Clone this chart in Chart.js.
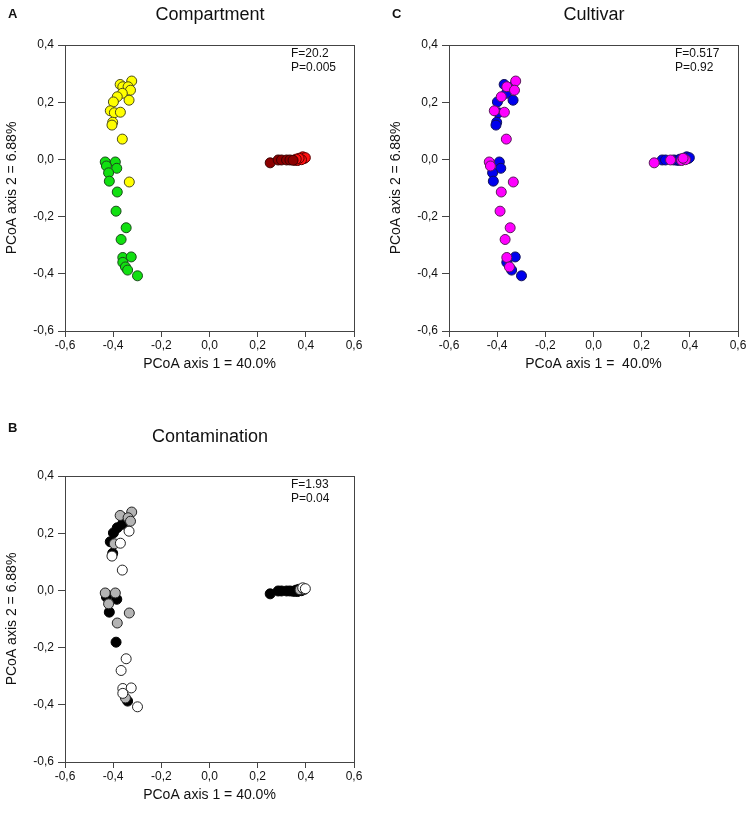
<!DOCTYPE html>
<html>
<head>
<meta charset="utf-8">
<script src="https://cdn.jsdelivr.net/npm/chart.js@4.4.1/dist/chart.umd.min.js"></script>
<style>
  body { margin: 0; background: #fff; }
  #wrap { position: relative; width: 749px; height: 819px; background: #fff; font-family: "Liberation Sans", Arial, sans-serif; color: #111; }
  canvas { position: absolute; }
  .t { position: absolute; white-space: pre; line-height: 1; }
  .letter { font-weight: bold; font-size: 13px; }
  .title { font-size: 18px; transform: translateX(-50%); }
  .stat { font-size: 12px; }
</style>
</head>
<body>
<div id="wrap">
  <canvas id="chartA" width="374" height="377" style="left:0;top:0"></canvas>
  <canvas id="chartC" width="365" height="377" style="left:384px;top:0"></canvas>
  <canvas id="chartB" width="374" height="377" style="left:0;top:431px"></canvas>

  <div class="t letter" style="left:8px;top:7px">A</div>
  <div class="t title" style="left:210px;top:5px">Compartment</div>
  <div class="t stat" style="left:291px;top:47px">F=20.2</div>
  <div class="t stat" style="left:291px;top:61px">P=0.005</div>

  <div class="t letter" style="left:392px;top:7px">C</div>
  <div class="t title" style="left:594px;top:5px">Cultivar</div>
  <div class="t stat" style="left:675px;top:47px">F=0.517</div>
  <div class="t stat" style="left:675px;top:61px">P=0.92</div>

  <div class="t letter" style="left:8px;top:421px">B</div>
  <div class="t title" style="left:210px;top:427px">Contamination</div>
  <div class="t stat" style="left:291px;top:478px">F=1.93</div>
  <div class="t stat" style="left:291px;top:492px">P=0.04</div>
</div>

<script>
// Sample positions (same samples in all three panels)
const yellowX = [-0.323, -0.371, -0.360, -0.338, -0.328, -0.362, -0.383, -0.334, -0.399, -0.412, -0.395, -0.370, -0.402, -0.405, -0.362, -0.333];
const yellowY = [0.274, 0.262, 0.254, 0.254, 0.242, 0.231, 0.219, 0.207, 0.201, 0.170, 0.163, 0.165, 0.130, 0.120, 0.071, -0.079];
const greenX = [-0.433, -0.391, -0.428, -0.385, -0.419, -0.416, -0.383, -0.388, -0.346, -0.367, -0.360, -0.325, -0.360, -0.349, -0.340, -0.299];
const greenY = [-0.009, -0.009, -0.023, -0.031, -0.047, -0.076, -0.114, -0.181, -0.239, -0.280, -0.343, -0.341, -0.360, -0.376, -0.387, -0.407];
const darkRedX = [0.252, 0.285, 0.299, 0.320, 0.334, 0.347];
const darkRedY = [-0.012, -0.002, -0.002, -0.002, -0.002, -0.003];
const redX = [0.355, 0.366, 0.376, 0.387, 0.393, 0.398, 0.382, 0.372, 0.360];
const redY = [-0.003, -0.004, 0.002, 0.009, 0.003, 0.006, -0.001, 0.004, 0.001];

// Cultivar per sample (M = magenta, B = blue)
const yellowCultivar = ['M','B','M','B','M','B','M','B','B','M','B','M','B','B','M','M'];
const greenCultivar = ['M','B','M','B','B','B','M','M','M','M','M','B','B','M','B','B'];
const darkRedCultivar = ['M','B','B','M','B','B'];
const redCultivar = ['B','M','B','B','B','B','M','M','B'];

// Contamination per sample (K = black, G = grey, W = white)
const yellowContam = ['G','G','K','G','G','K','K','W','K','K','G','W','K','W','W','G'];
const greenContam = ['G','G','K','K','G','K','G','K','W','W','W','W','W','G','K','W'];
const darkRedContam = ['K','K','K','K','K','K'];
const redContam = ['K','K','G','W','G','W','K','K','K'];

const xTickValues = [-0.6, -0.4, -0.2, 0.0, 0.2, 0.4, 0.6];
const xTickLabels = ['-0,6', '-0,4', '-0,2', '0,0', '0,2', '0,4', '0,6'];
const yTickValues = [-0.6, -0.4, -0.2, 0.0, 0.2, 0.4];
const yTickLabels = ['-0,6', '-0,4', '-0,2', '0,0', '0,2', '0,4'];

const groupsX = [yellowX, greenX, darkRedX, redX];
const groupsY = [yellowY, greenY, darkRedY, redY];

function pts(xs, ys) {
    return xs.map((x, i) => ({ x: x, y: ys[i] }));
}

// pick all samples with a given code from the per-group code arrays
function pick(codes, code) {
    const out = [];
    codes.forEach((arr, g) => {
        arr.forEach((c, i) => { if (c === code) out.push({ x: groupsX[g][i], y: groupsY[g][i] }); });
    });
    return out;
}

function ds(data, fill, edge) {
    return { data: data, backgroundColor: fill, borderColor: edge || '#333', borderWidth: 1, pointRadius: 5, pointHoverRadius: 5 };
}

const framePlugin = {
    id: 'frame',
    beforeDatasetsDraw(chart) {
        const a = chart.chartArea;
        const ctx = chart.ctx;
        ctx.save();
        ctx.strokeStyle = '#444';
        ctx.lineWidth = 1;
        ctx.strokeRect(Math.round(a.left) + 0.5, Math.round(a.top) + 0.5, Math.round(a.right - a.left), Math.round(a.bottom - a.top));
        ctx.restore();
    }
};

function axis(titleText, horizontal) {
    const vals = horizontal ? xTickValues : yTickValues;
    const labels = horizontal ? xTickLabels : yTickLabels;
    return {
        type: 'linear',
        min: vals[0], max: vals[vals.length - 1],
        afterBuildTicks: (s) => { s.ticks = vals.map(v => ({ value: v })); },
        ticks: {
            callback: (v) => {
                const i = vals.findIndex(t => Math.abs(t - v) < 1e-6);
                return i >= 0 ? labels[i] : '';
            },
            color: '#111', font: { family: 'Liberation Sans', size: 12 }, padding: horizontal ? 1 : 4, maxRotation: 0, autoSkip: false
        },
        grid: { display: true, drawOnChartArea: false, drawTicks: true, tickLength: horizontal ? 6 : 7, color: '#444' },
        border: { display: true, color: '#444' },
        title: { display: true, text: titleText, color: '#111', font: { family: 'Liberation Sans', size: 14 }, padding: 4 },
        afterFit: (s) => { if (horizontal) s.height = 46; else s.width = 65; }
    };
}

function makeChart(id, datasets, xTitle, padRight) {
    new Chart(document.getElementById(id), {
        type: 'scatter',
        data: { datasets: datasets },
        options: {
            responsive: false,
            animation: false,
            layout: { padding: { top: 45, right: padRight, bottom: 0, left: 0 } },
            plugins: { legend: { display: false }, tooltip: { enabled: false } },
            scales: { x: axis(xTitle, true), y: axis('PCoA axis 2 = 6.88%', false) }
        },
        plugins: [framePlugin]
    });
}

makeChart('chartA', [
    ds(pts(yellowX, yellowY), '#ffff00', '#4a4a1a'),
    ds(pts(greenX, greenY), '#11e011', '#1a4a1a'),
    ds(pts(darkRedX, darkRedY), '#8c0000', '#3a0000'),
    ds(pts(redX, redY), '#ff1010', '#5a0000')
], 'PCoA axis 1 = 40.0%', 20);

makeChart('chartC', [
    ds(pick([yellowCultivar, greenCultivar, darkRedCultivar, redCultivar], 'M'), '#ff00ff', '#5a1a5a'),
    ds(pick([yellowCultivar, greenCultivar, darkRedCultivar, redCultivar], 'B'), '#0000ee', '#10105a')
], 'PCoA axis 1 =  40.0%', 11);

makeChart('chartB', [
    ds(pick([yellowContam, greenContam, darkRedContam, redContam], 'W'), '#ffffff', '#222'),
    ds(pick([yellowContam, greenContam, darkRedContam, redContam], 'G'), '#b4b4b4', '#222'),
    ds(pick([yellowContam, greenContam, darkRedContam, redContam], 'K'), '#000000', '#000')
], 'PCoA axis 1 = 40.0%', 20);
</script>
</body>
</html>
